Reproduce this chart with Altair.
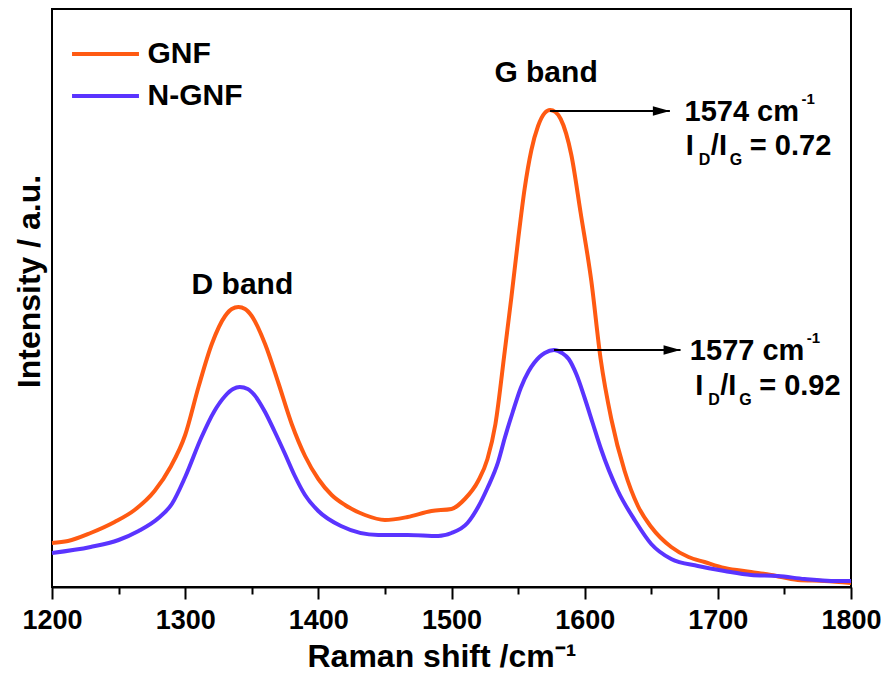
import altair as alt
import pandas as pd

FONT = "Liberation Sans"

# ---- data ----
gnf_shift = [1200, 1212, 1229, 1247, 1262, 1277, 1289, 1300, 1310, 1320, 1330, 1335, 1340, 1345,
             1350, 1360, 1370, 1380, 1390, 1400, 1410, 1420, 1435, 1450, 1467, 1485, 1500, 1510,
             1520, 1527, 1533, 1540, 1545, 1550, 1555, 1560, 1565, 1570, 1574, 1578, 1582, 1590,
             1597, 1605, 1612, 1620, 1630, 1640, 1650, 1665, 1678, 1690, 1705, 1725, 1740, 1760,
             1780, 1800]
gnf_int = [44, 46, 54, 65, 77, 96, 120, 152, 200, 243, 271, 278, 280, 278,
           271, 243, 204, 163, 131, 108, 92, 82, 72, 67, 70, 76, 78, 88,
           106, 128, 163, 236, 290, 347, 399, 437, 461, 474, 477, 475, 468, 432,
           374, 306, 228, 168, 116, 81, 60, 40, 30, 25, 19, 15, 12, 7,
           6, 4]

ngnf_shift = [1200, 1229, 1250, 1265, 1280, 1290, 1300, 1312, 1322, 1330, 1336, 1341, 1347, 1352,
              1360, 1367, 1375, 1382, 1390, 1400, 1417, 1445, 1467, 1490, 1500, 1512, 1520, 1527,
              1535, 1540, 1546, 1552, 1558, 1562, 1566, 1570, 1577, 1583, 1588, 1594, 1600, 1606,
              1612, 1625, 1638, 1650, 1665, 1685, 1705, 1725, 1745, 1765, 1785, 1800]
ngnf_int = [34, 40, 47, 56, 69, 83, 110, 149, 176, 191, 198, 200, 198, 192,
            175, 156, 133, 112, 92, 76, 61, 52, 52, 51, 54, 64, 80, 99,
            125, 149, 175, 199, 216, 224, 230, 234, 237, 234, 228, 212, 189, 164,
            139, 96, 66, 43, 28, 21, 16, 12, 11, 8, 6, 6]

series_names = ["GNF", "N-GNF"]
series_colors = ["#FF5A12", "#5A34FF"]

x_ticks = [1200, 1300, 1400, 1500, 1600, 1700, 1800]
x_minor_ticks = [1250, 1350, 1450, 1550, 1650, 1750]

band_labels = ["D band", "G band"]
band_x = [1343, 1571]
band_y = [293, 505]

peak_shift = [1574, 1577]
peak_int = [476, 237]
arrow_end = [1664, 1672]

pos_labels = ["1574 cm", "1577 cm"]
pos_x = [1675, 1679]
pos_y = [466, 227]

ratio_values = ["= 0.72", "= 0.92"]
ratio_x = [1676, 1683]
ratio_y = [432, 192]

# ---- tables ----
spectra = pd.DataFrame({
    "shift": gnf_shift + ngnf_shift,
    "intensity": gnf_int + ngnf_int,
    "sample": [series_names[0]] * len(gnf_shift) + [series_names[1]] * len(ngnf_shift),
    "order": list(range(len(gnf_shift))) + list(range(len(ngnf_shift))),
})
bands = pd.DataFrame({"x": band_x, "y": band_y, "label": band_labels})
arrows = pd.DataFrame({"x": peak_shift, "x2": arrow_end, "y": peak_int})
positions = pd.DataFrame({"x": pos_x, "y": pos_y, "label": pos_labels, "sup": ["-1", "-1"]})
ratios = pd.DataFrame({"x": ratio_x, "y": ratio_y, "i1": ["I", "I"], "s1": ["D", "D"],
                       "i2": ["/I", "/I"], "s2": ["G", "G"], "val": ratio_values})

x_scale = alt.Scale(domain=[1200, 1800], nice=False, zero=False)
y_scale = alt.Scale(domain=[0, 578], nice=False, zero=False)

major_axis = alt.Axis(
    orient="bottom", values=x_ticks, format="d", grid=False,
    tickSize=12, tickWidth=2, tickColor="black",
    domainColor="black", domainWidth=2,
    labelFont=FONT, labelFontSize=27, labelFontWeight="bold", labelColor="black",
    labelBaseline="alphabetic", labelPadding=29, labelFlush=False, labelOverlap=False,
    title="Raman shift /cm\u207b\u00b9", titleFont=FONT, titleFontSize=32, titleFontWeight="bold",
    titleColor="black", titleX=255, titleY=79, titleAlign="left", titleBaseline="alphabetic",
)
minor_axis = alt.Axis(
    orient="bottom", values=x_minor_ticks, grid=False, labels=False, domain=False,
    tickSize=7, tickWidth=2, tickColor="black", title=None,
)
y_axis = alt.Axis(
    orient="left", grid=False, labels=False, ticks=False, domain=False,
    title="Intensity / a.u.", titleFont=FONT, titleFontSize=32, titleFontWeight="bold",
    titleColor="black", titleX=-13, titleY=272, titleAlign="center", titleBaseline="alphabetic",
    titleAngle=270,
)


def y_enc(field):
    return alt.Y(f"{field}:Q", scale=y_scale, axis=y_axis)


lines = alt.Chart(spectra).mark_line(strokeWidth=4, interpolate="monotone").encode(
    x=alt.X("shift:Q", scale=x_scale, axis=major_axis),
    y=y_enc("intensity"),
    color=alt.Color(
        "sample:N",
        scale=alt.Scale(domain=series_names, range=series_colors),
        legend=alt.Legend(
            title=None, orient="none", legendX=38.5, legendY=30, padding=0,
            symbolType="M-8,0H8", symbolSize=70, symbolStrokeWidth=4,
            labelFont=FONT, labelFontSize=30, labelFontWeight="bold", labelColor="black",
            labelOffset=27, rowPadding=12,
        ),
    ),
    order=alt.Order("order:Q"),
)

band_text = alt.Chart(bands).mark_text(
    font=FONT, fontSize=30, fontWeight="bold", color="black", align="center", baseline="alphabetic"
).encode(
    x=alt.X("x:Q", scale=x_scale, axis=minor_axis),
    y=y_enc("y"),
    text="label:N",
)

arrow_line = alt.Chart(arrows).mark_rule(color="black", strokeWidth=2).encode(
    x=alt.X("x:Q", scale=x_scale, axis=None),
    x2="x2:Q",
    y=y_enc("y"),
)
arrow_head = alt.Chart(arrows).mark_point(
    shape="M-1,-0.55L1,0L-1,0.55Z", size=289, filled=True, color="black", opacity=1, xOffset=-8.5
).encode(
    x=alt.X("x2:Q", scale=x_scale, axis=None),
    y=y_enc("y"),
)


def text_layer(df, field, dx=0, dy=0, size=29):
    return alt.Chart(df).mark_text(
        font=FONT, fontSize=size, fontWeight="bold", color="black",
        align="left", baseline="alphabetic", dx=dx, dy=dy,
    ).encode(
        x=alt.X("x:Q", scale=x_scale, axis=None),
        y=y_enc("y"),
        text=f"{field}:N",
    )


annotations = [
    text_layer(positions, "label"),
    text_layer(positions, "sup", dx=117, dy=-17, size=15),
    text_layer(ratios, "i1"),
    text_layer(ratios, "s1", dx=13, dy=10, size=16),
    text_layer(ratios, "i2", dx=25),
    text_layer(ratios, "s2", dx=44, dy=10, size=16),
    text_layer(ratios, "val", dx=64),
]

chart = alt.layer(lines, band_text, arrow_line, arrow_head, *annotations).resolve_axis(
    x="independent"
).properties(
    width=799, height=578, background="white",
    autosize=alt.AutoSizeParams(type="none"),
    padding={"left": 44, "top": 1, "right": 30, "bottom": 86},
).configure_view(stroke="black", strokeWidth=2)

chart.save("out.html", embed_options={"renderer": "svg", "actions": False})
